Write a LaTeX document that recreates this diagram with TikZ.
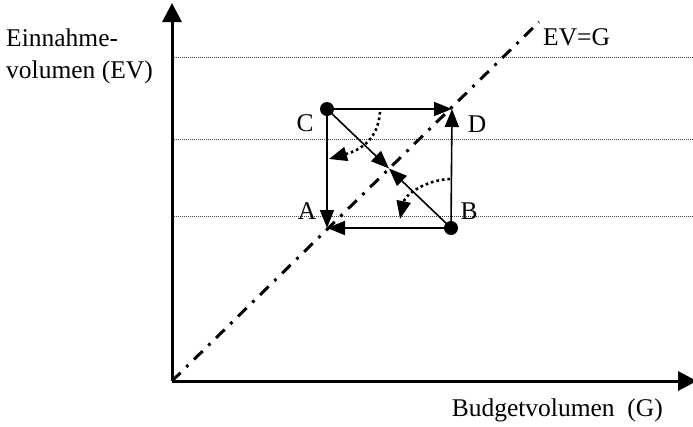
\documentclass[tikz,border=0pt]{standalone}
\usepackage{fontspec}
\setmainfont{Liberation Serif}
\usetikzlibrary{arrows.meta}
\begin{document}
\begin{tikzpicture}[x=1pt,y=-1pt,
  lbl/.style={font=\fontsize{25.5}{30}\selectfont, inner sep=0pt},
  axis/.style={line width=3pt, -{Triangle[length=19pt,width=19pt]}},
  sq/.style={line width=1.6pt, -{Triangle[length=18pt,width=14pt]}},
  gridline/.style={line width=1pt, black!75, dash pattern=on 1pt off 1pt},
  curv/.style={line width=2.6pt, dash pattern=on 2.6pt off 3pt, -{Triangle[length=18pt,width=14pt]}},
  evg/.style={line width=3pt, dash pattern=on 12pt off 8pt on 2.8pt off 8pt},
  dot/.style={circle, fill=black, inner sep=0pt, minimum size=14pt}]
\useasboundingbox (0,0) rectangle (693,426);
% coordinates
\coordinate (O) at (172,381);
\coordinate (Ytop) at (172,3);
\coordinate (Xend) at (697,381);
\coordinate (C) at (327,109);
\coordinate (D) at (452,109);
\coordinate (A) at (327,228);
\coordinate (B) at (451,228);
\coordinate (M) at (389,168.5);
\coordinate (E) at (539,22);
\foreach \y/\n in {57/g1,139/g2,216/g3}{
  \coordinate (\n s) at (172,\y);
  \coordinate (\n e) at (693,\y);
}
% grid lines
\draw[gridline] (g1s) -- (g1e);
\draw[gridline] (g2s) -- (g2e);
\draw[gridline] (g3s) -- (g3e);
% axes
\draw[axis] (O) -- (Ytop);
\draw[axis] (O) -- (Xend);
% EV=G line
\draw[evg] (O) -- (E);
% square
\draw[sq] (C) -- (D);
\draw[sq] (B) -- (D);
\draw[sq] (C) -- (A);
\draw[sq] (B) -- (A);
\draw[sq] (C) -- (M);
\draw[sq] (B) -- (M);
% dots
\node[dot] (Cd) at (C) {};
\node[dot] (Bd) at (B) {};
% curved dotted arrows
\coordinate (c1s) at (380,112);
\coordinate (c1e) at (329,159);
\coordinate (c2s) at (450,179);
\coordinate (c2e) at (400,219);
\draw[curv] (c1s) .. controls (378,140) and (360,150) .. (c1e);
\draw[curv] (c2s) .. controls (425,180) and (405,195) .. (c2e);
% labels
\node[lbl] (lC) at (305,123) {C};
\node[lbl] (lD) at (477,124) {D};
\node[lbl] (lA) at (307,211) {A};
\node[lbl] (lB) at (469,211) {B};
\node[lbl, anchor=west] (lE) at (543,37) {EV=G};
\node[lbl, anchor=west] (y1) at (6,38) {Einnahme-};
\node[lbl, anchor=west] (y2) at (6,72) {volumen (EV)};
\node[lbl, anchor=east] (xl) at (663,410) {Budgetvolumen\ \ (G)};
\end{tikzpicture}
\end{document}
